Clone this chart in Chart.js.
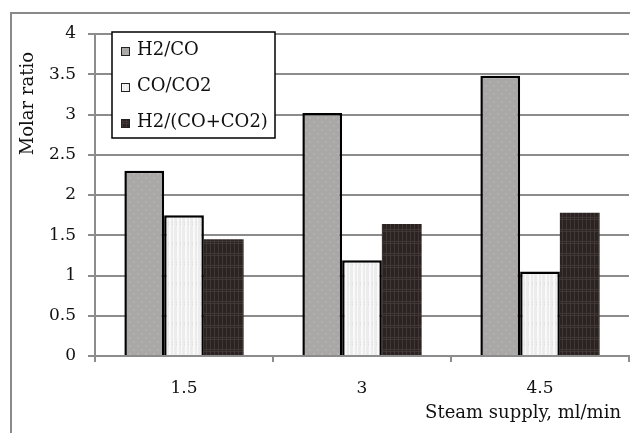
<!DOCTYPE html>
<html>
<head>
<meta charset="utf-8">
<script src="https://cdn.jsdelivr.net/npm/chart.js@4"></script>
<style>
  html, body { margin: 0; padding: 0; background: #fff; }
  #wrap { width: 630px; height: 433px; }
</style>
</head>
<body>
<div id="wrap"><canvas id="c" width="630" height="433"></canvas></div>
<script>
// Steam supply (ml/min) categories and measured molar ratios
const categories = ['1.5', '3', '4.5'];
const ratioH2CO = [2.3, 3.02, 3.48];
const ratioCOCO2 = [1.75, 1.19, 1.05];
const ratioH2COx = [1.45, 1.64, 1.78];
const seriesNames = ['H2/CO', 'CO/CO2', 'H2/(CO+CO2)'];
const yTicks = [0, 0.5, 1, 1.5, 2, 2.5, 3, 3.5, 4];
const yTitle = 'Molar ratio';
const xTitle = 'Steam supply, ml/min';

const FONT = '"DejaVu Serif", "Liberation Serif", serif';
const GRID = '#8c8c8c';

// small tiled fills imitating the textured bars
function tile(w, h, paint) {
  const c = document.createElement('canvas');
  c.width = w; c.height = h;
  const g = c.getContext('2d');
  paint(g);
  return g.createPattern(c, 'repeat');
}
const grayFill = tile(8, 8, g => {
  g.fillStyle = '#aaa7a7'; g.fillRect(0, 0, 8, 8);
  g.fillStyle = '#b3b0b0';
  g.fillRect(1, 1, 2, 2); g.fillRect(5, 5, 2, 2);
});
const lightFill = tile(8, 20, g => {
  g.fillStyle = '#ececec'; g.fillRect(0, 0, 8, 20);
  g.fillStyle = '#f9f9f9';
  g.fillRect(1, 0, 2, 20); g.fillRect(5, 0, 1, 20);
  g.fillStyle = '#dedede';
  g.fillRect(0, 2, 1, 1); g.fillRect(4, 2, 1, 1); g.fillRect(0, 4, 1, 1); g.fillRect(4, 4, 1, 1);
});
const darkFill = tile(8, 12, g => {
  g.fillStyle = '#2b2321'; g.fillRect(0, 0, 8, 12);
  g.fillStyle = '#413835';
  g.fillRect(2, 0, 1, 12); g.fillRect(6, 0, 1, 12);
  g.fillRect(0, 1, 8, 1); g.fillRect(0, 3, 8, 1);
});

const fills = [grayFill, lightFill, darkFill];

// outer frame, axis titles and the boxed legend
const decorations = {
  id: 'decorations',
  beforeDraw(chart) {
    const g = chart.ctx;
    g.save();
    g.strokeStyle = '#8a8a8a';
    g.lineWidth = 2;
    g.beginPath();
    g.moveTo(11, 433); g.lineTo(11, 13); g.lineTo(630, 13);
    g.stroke();
    g.restore();
  },
  afterDraw(chart) {
    const g = chart.ctx;
    const area = chart.chartArea;
    g.save();
    g.fillStyle = '#111';
    g.font = '18px ' + FONT;
    // y title
    g.save();
    g.translate(28, area.top + 18);
    g.rotate(-Math.PI / 2);
    g.textAlign = 'right';
    g.textBaseline = 'middle';
    g.fillText(yTitle, 0, 0);
    g.restore();
    // x title
    g.textAlign = 'right';
    g.textBaseline = 'middle';
    g.fillText(xTitle, area.right - 8, 413);

    // legend box
    const lx = 112, ly = 32, lw = 163, lh = 106;
    g.fillStyle = '#fff';
    g.fillRect(lx, ly, lw, lh);
    g.strokeStyle = '#000';
    g.lineWidth = 1.5;
    g.strokeRect(lx, ly, lw, lh);
    chart.data.datasets.forEach((ds, i) => {
      const cy = 50 + i * 36;
      g.fillStyle = ds.backgroundColor;
      g.fillRect(121, cy - 3, 9, 9);
      g.strokeStyle = '#222';
      g.lineWidth = 1;
      g.strokeRect(121.5, cy - 2.5, 8, 8);
      g.fillStyle = '#111';
      g.textAlign = 'left';
      g.textBaseline = 'middle';
      g.font = '18px ' + FONT;
      g.fillText(ds.label, 137, cy);
    });
    g.restore();
  }
};

new Chart(document.getElementById('c'), {
  type: 'bar',
  data: {
    labels: categories,
    datasets: [ratioH2CO, ratioCOCO2, ratioH2COx].map((vals, i) => ({
      label: seriesNames[i],
      data: vals,
      backgroundColor: fills[i],
      borderColor: i < 2 ? '#000' : '#2b2321',
      borderWidth: i < 2 ? 2.5 : 0,
      borderSkipped: 'bottom',
      categoryPercentage: 0.67,
      barPercentage: 1.0
    }))
  },
  options: {
    responsive: false,
    animation: false,
    layout: { padding: { top: 34, right: 1, left: 0, bottom: 0 } },
    plugins: { legend: { display: false }, tooltip: { enabled: false } },
    scales: {
      x: {
        grid: { drawOnChartArea: false, drawTicks: true, tickLength: 6, color: GRID, lineWidth: 2 },
        border: { color: GRID, width: 2 },
        ticks: { font: { family: FONT, size: 17 }, color: '#111', padding: 16 },
        afterFit(scale) { scale.height = 77; }
      },
      y: {
        min: 0, max: 4,
        afterBuildTicks(scale) { scale.ticks = yTicks.map(v => ({ value: v })); },
        grid: { color: GRID, lineWidth: 2, tickLength: 7, tickColor: GRID },
        border: { color: GRID, width: 2 },
        ticks: {
          font: { family: FONT, size: 17 }, color: '#111', padding: 12,
          callback: v => String(v)
        },
        afterFit(scale) { scale.width = 95; }
      }
    }
  },
  plugins: [decorations]
});
</script>
</body>
</html>
